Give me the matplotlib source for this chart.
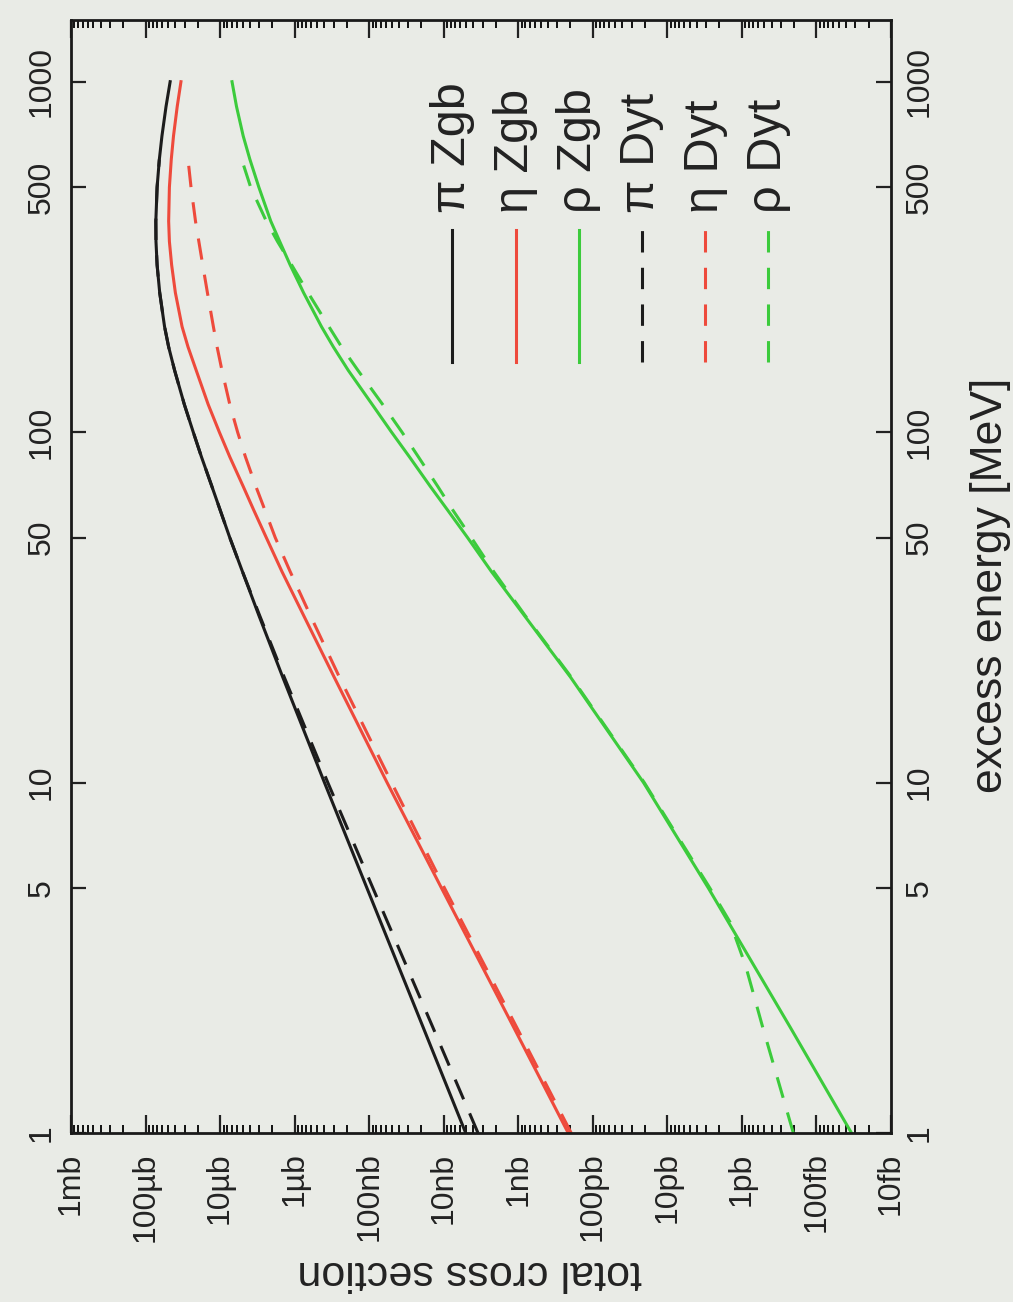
import numpy as np
import matplotlib
matplotlib.use('Agg')
import matplotlib.pyplot as plt
from matplotlib.ticker import FixedLocator, NullLocator, LogLocator

plt.rcParams['font.family'] = ['Liberation Sans', 'DejaVu Sans']

# excess energy [MeV]
energy = [1, 2, 5, 10, 20, 30, 40, 50, 60, 70, 85, 100, 120, 150, 175, 200, 250, 300,
          350, 400, 500, 600, 700, 850, 1000]
energy_dyt = [1, 2, 5, 10, 20, 30, 40, 50, 60, 70, 85, 100, 120, 150, 175, 200, 250, 300,
              350, 400, 500, 600]
energy_rho_dyt = [1, 2, 3, 4, 5, 10, 20, 30, 40, 50, 60, 70, 85, 100, 120, 150, 175, 200,
                  250, 300, 350, 400, 500, 600]

# log10 of total cross section in nb
pi_zgb = [0.705, 1.275, 2.03, 2.60, 3.16, 3.48, 3.70, 3.87, 4.00, 4.11, 4.25, 4.36, 4.48,
          4.61, 4.69, 4.745, 4.81, 4.845, 4.86, 4.862, 4.845, 4.815, 4.78, 4.725, 4.67]
eta_zgb = [-0.67, 0.06, 1.03, 1.76, 2.47, 2.88, 3.17, 3.38, 3.55, 3.69, 3.87, 4.01, 4.16,
           4.32, 4.43, 4.51, 4.60, 4.65, 4.68, 4.69, 4.68, 4.655, 4.625, 4.575, 4.525]
rho_zgb = [-4.47, -3.65, -2.55, -1.68, -0.70, -0.08, 0.36, 0.68, 0.95, 1.18, 1.46, 1.70, 1.96,
           2.28, 2.48, 2.64, 2.88, 3.06, 3.20, 3.32, 3.48, 3.60, 3.69, 3.78, 3.84]
pi_dyt = [0.54, 1.145, 1.95, 2.555, 3.14, 3.47, 3.70, 3.87, 4.00, 4.11, 4.25, 4.36, 4.48,
          4.61, 4.69, 4.745, 4.81, 4.845, 4.86, 4.862, 4.845, 4.815]
eta_dyt = [-0.71, 0.02, 0.99, 1.70, 2.40, 2.79, 3.06, 3.26, 3.40, 3.52, 3.66, 3.765, 3.87,
           3.975, 4.04, 4.09, 4.17, 4.233, 4.285, 4.33, 4.39, 4.43]
rho_dyt = [-3.69, -3.28, -3.05, -2.84, -2.57, -1.69, -0.71, -0.09, 0.33, 0.63, 0.88, 1.08,
           1.34, 1.56, 1.82, 2.15, 2.37, 2.54, 2.82, 3.04, 3.23, 3.38, 3.59, 3.71]

xs_ticks = [1e6, 1e5, 1e4, 1e3, 1e2, 1e1, 1e0, 1e-1, 1e-2, 1e-3, 1e-4, 1e-5]
xs_labels = ['1mb', '100µb', '10µb', '1µb', '100nb', '10nb', '1nb', '100pb', '10pb',
             '1pb', '100fb', '10fb']
e_ticks = [1, 5, 10, 50, 100, 500, 1000]
e_labels = ['1', '5', '10', '50', '100', '500', '1000']

legend_labels = ['π Zgb', 'η Zgb', 'ρ Zgb', 'π Dyt', 'η Dyt', 'ρ Dyt']

BLACK = '#1c1c1c'
RED = '#ee4a3c'
GREEN = '#3ccb3c'
BG = '#e9ebe6'

fig = plt.figure(figsize=(10.13, 13.02), dpi=100, facecolor=BG)
ax = fig.add_axes([71 / 1013, 169 / 1302, 820 / 1013, 1113 / 1302], facecolor=BG)

dash = (0, (7, 5))
lw = 2.2
series = [
    (energy_dyt, pi_dyt, BLACK, dash),
    (energy_dyt, eta_dyt, RED, dash),
    (energy_rho_dyt, rho_dyt, GREEN, dash),
    (energy, pi_zgb, BLACK, '-'),
    (energy, eta_zgb, RED, '-'),
    (energy, rho_zgb, GREEN, '-'),
]
for e, s, c, ls in series:
    ax.plot(10 ** np.array(s), e, color=c, linestyle=ls, linewidth=lw)

# the scan is turned on its side: cross section runs left->right (decreasing), energy upward
ax.set_xscale('log')
ax.set_yscale('log')
ax.set_xlim(1e6, 1e-5)
ax.set_ylim(1, 1500)

ax.xaxis.set_major_locator(FixedLocator(xs_ticks))
ax.set_xticklabels(xs_labels)
ax.xaxis.set_minor_locator(LogLocator(base=10, subs=np.arange(2, 10), numticks=30))
ax.xaxis.set_minor_formatter(plt.NullFormatter())
ax.yaxis.set_major_locator(FixedLocator(e_ticks))
ax.set_yticklabels(e_labels)
ax.yaxis.set_minor_locator(NullLocator())

ax.tick_params(axis='x', which='major', direction='in', length=13, width=1.6,
               top=True, bottom=True, labelsize=23, pad=14, colors='#222222',
               labelrotation=90)
ax.tick_params(axis='x', which='minor', direction='in', length=6, width=1.3,
               top=True, bottom=True)
ax.tick_params(axis='y', which='major', direction='in', length=11, width=1.6,
               left=True, right=True, labelleft=True, labelright=True,
               labelsize=23, pad=10, colors='#222222', labelrotation=90)
for t in ax.yaxis.get_major_ticks():
    t.label1.set_va('center')
    t.label2.set_va('center')
for sp in ax.spines.values():
    sp.set_linewidth(2.0)
    sp.set_color('#1a1a1a')

# legend, drawn by hand because the whole chart is rotated
leg_styles = [(BLACK, '-'), (RED, '-'), (GREEN, '-'), (BLACK, dash), (RED, dash), (GREEN, dash)]
for i, (lbl, (c, ls)) in enumerate(zip(legend_labels, leg_styles)):
    xc = 0.465 + i * 0.0771
    ax.plot([xc, xc], [0.6927, 0.8113], transform=ax.transAxes, color=c,
            linestyle=ls, linewidth=lw, clip_on=False)
    ax.text(xc, 0.8266, lbl, transform=ax.transAxes, rotation=90, ha='center',
            va='bottom', fontsize=35, color='#222222')

fig.text(990 / 1013, 1 - 585 / 1302, 'excess energy [MeV]', rotation=90,
         ha='center', va='center', fontsize=32, color='#222222')
fig.text(470 / 1013, 1 - 1272 / 1302, 'total cross section', rotation=180,
         ha='center', va='center', fontsize=31, color='#222222')

fig.savefig('out.png', dpi=100, facecolor=BG)
